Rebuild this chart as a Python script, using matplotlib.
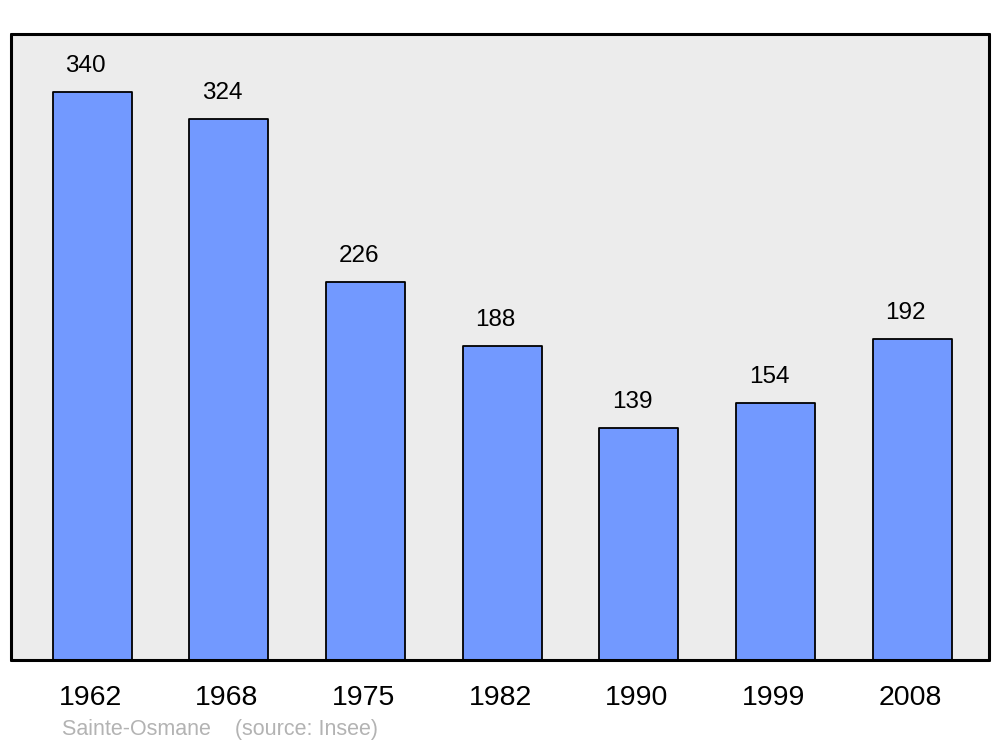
import matplotlib
matplotlib.use("Agg")
import matplotlib.pyplot as plt
from matplotlib.transforms import offset_copy, ScaledTranslation

years = ["1962", "1968", "1975", "1982", "1990", "1999", "2008"]
population = [340, 324, 226, 188, 139, 154, 192]
place = "Sainte-Osmane"
source = "(source: Insee)"

plt.rcParams['font.family'] = ['Liberation Sans', 'DejaVu Sans']

fig = plt.figure(figsize=(10, 7.47), dpi=100)
ax = fig.add_axes([0.011, 1 - 660/747, 0.978, (660 - 34)/747])
ax.set_facecolor('#ececec')

x = list(range(len(years)))
ax.bar(x, population, width=0.578, color='#7299ff', edgecolor='black',
       linewidth=1.3, joinstyle='round')
ax.set_xlim(-0.593, 6.563)
ax.set_ylim(0, 374.7)

tr = offset_copy(ax.transData, fig=fig, x=-6.5, y=15, units='dots')
for xi, v in zip(x, population):
    ax.text(xi, v, str(v), transform=tr, ha='center', va='bottom', fontsize=17.5)

ax.set_xticks(x)
ax.set_xticklabels(years, fontsize=20.5)
ax.tick_params(axis='x', length=0, pad=18)
shift = ScaledTranslation(-2/100, 0, fig.dpi_scale_trans)
for lab in ax.get_xticklabels():
    lab.set_transform(lab.get_transform() + shift)
ax.set_yticks([])
for s in ax.spines.values():
    s.set_linewidth(2.2)
    s.set_capstyle('round')

fig.text(62/1000, 1 - 730/747, place + "    " + source, fontsize=15.5,
         color='#b3b3b3', ha='left', va='center')

fig.savefig('out.png', dpi=100, facecolor='white')
